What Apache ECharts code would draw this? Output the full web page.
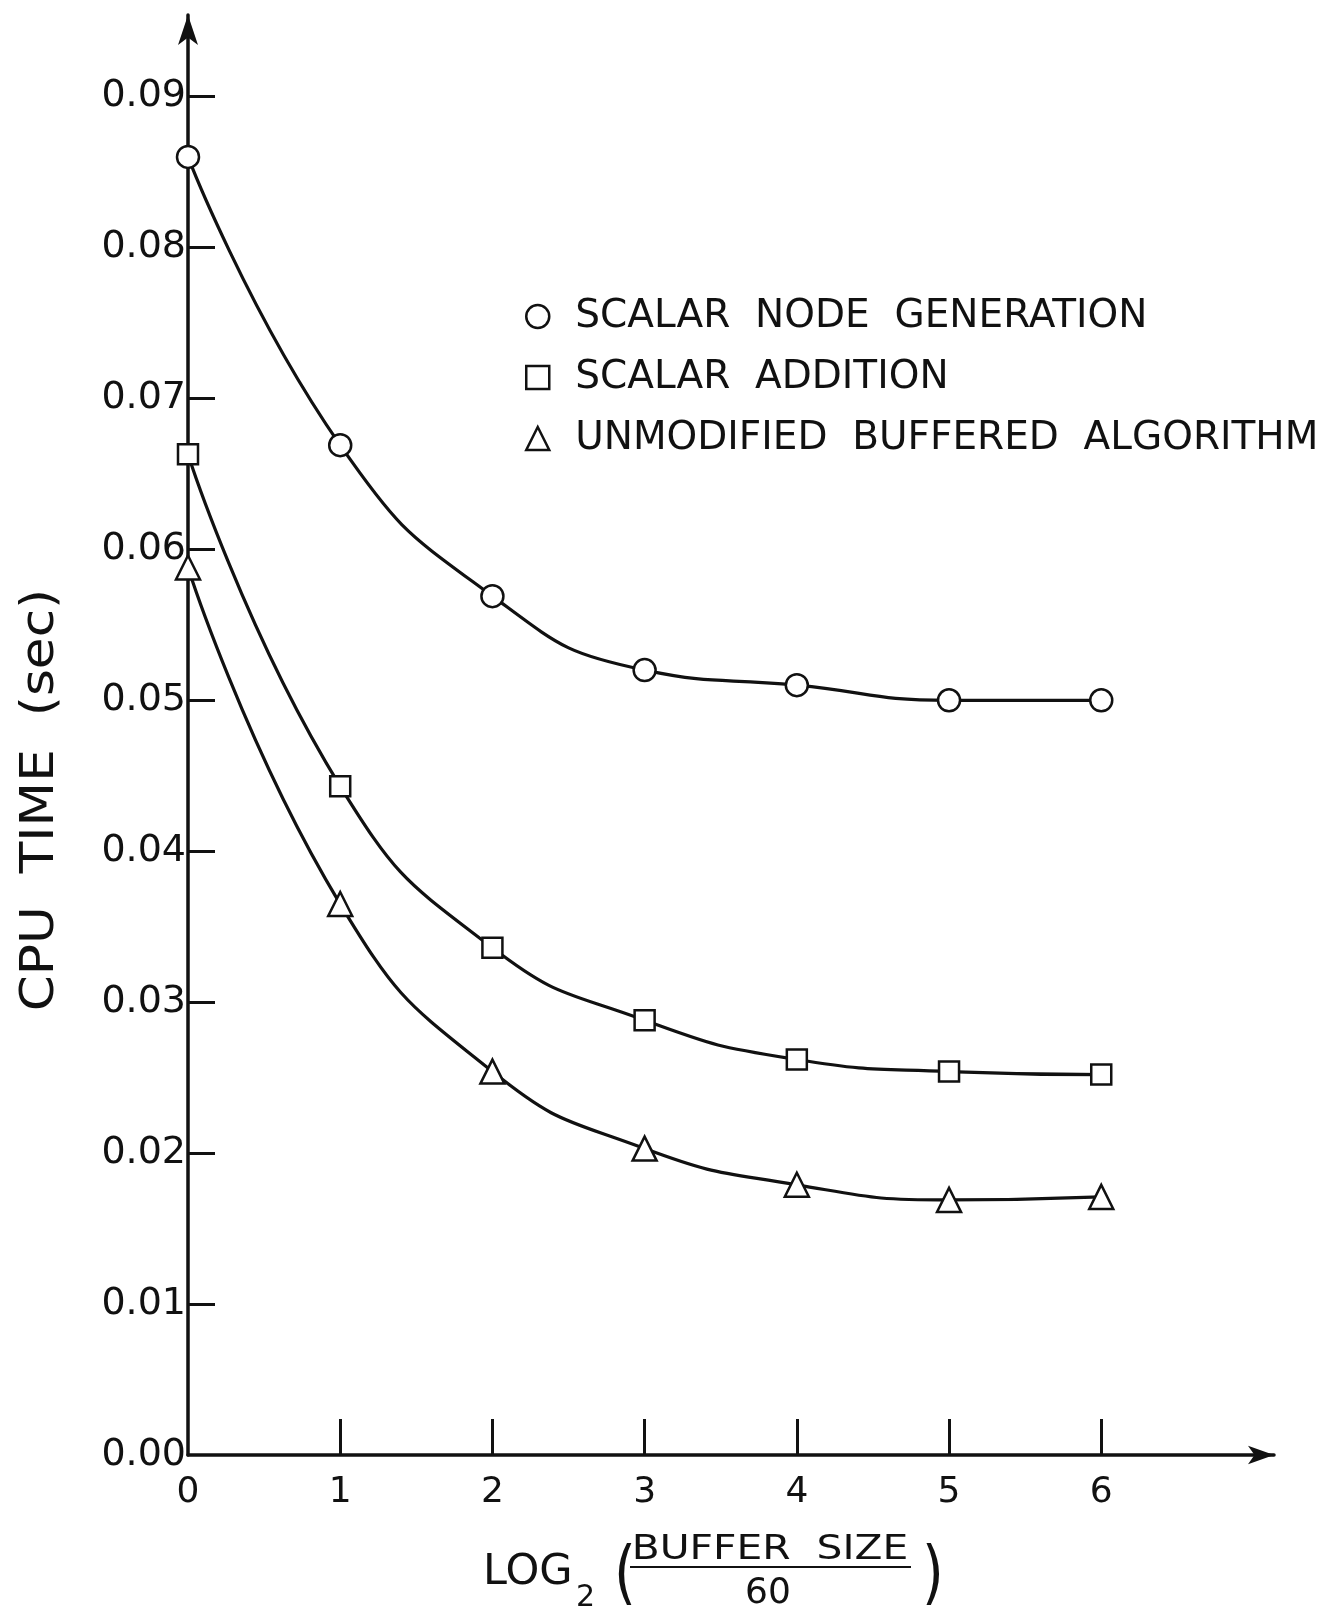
<!DOCTYPE html>
<html>
<head>
<meta charset="utf-8">
<script src="https://cdn.jsdelivr.net/npm/echarts@6/dist/echarts.min.js"></script>
<style>
  html, body { margin: 0; padding: 0; background: #fff; }
  #chart { width: 1331px; height: 1612px; }
</style>
</head>
<body>
<div id="chart"></div>
<script>
// log2(buffer size / 60)
const bufferLog = [0, 1, 2, 3, 4, 5, 6];
// cpu time (sec)
const nodeGen = [0.0860, 0.0669, 0.0569, 0.0520, 0.0510, 0.0500, 0.0500];
const scalarAdd = [0.0663, 0.0443, 0.0336, 0.0288, 0.0262, 0.0254, 0.0252];
const unmodified = [0.0588, 0.0365, 0.0254, 0.0203, 0.0179, 0.0169, 0.0171];

const xTickLabels = [0, 1, 2, 3, 4, 5, 6];
const yTickLabels = [0, 0.01, 0.02, 0.03, 0.04, 0.05, 0.06, 0.07, 0.08, 0.09];

const seriesNames = ['SCALAR  NODE  GENERATION', 'SCALAR  ADDITION', 'UNMODIFIED  BUFFERED  ALGORITHM'];

const FONT = 'DejaVu Sans';
const INK = '#111';

function pairs(ys) {
  return bufferLog.map((x, i) => [x, ys[i]]);
}

function mkSeries(name, ys, symbol, size) {
  return {
    name: name,
    type: 'line',
    data: pairs(ys),
    smooth: 0.5,
    symbol: symbol,
    symbolSize: size,
    showAllSymbol: true,
    lineStyle: { color: INK, width: 3.2 },
    itemStyle: { color: '#fff', borderColor: INK, borderWidth: 2.5 },
    z: 3
  };
}

let myChart = echarts.init(document.getElementById('chart'), null, { renderer: 'canvas' });

myChart.setOption({
  animation: false,
  backgroundColor: '#fff',
  grid: { left: 188, right: 57, top: 15, bottom: 157 },
  legend: {
    orient: 'vertical',
    left: 520,
    top: 292,
    itemWidth: 23,
    itemHeight: 23,
    itemGap: 22,
    selectedMode: false,
    itemStyle: { color: '#fff', borderColor: INK, borderWidth: 2.5 },
    textStyle: { fontFamily: FONT, fontSize: 39, lineHeight: 38, color: INK, padding: [0, 0, 0, 21] },
    data: [
      { name: seriesNames[0], icon: 'circle' },
      { name: seriesNames[1], icon: 'rect' },
      { name: seriesNames[2], icon: 'triangle' }
    ]
  },
  xAxis: {
    type: 'value',
    min: 0,
    max: 7.135,
    interval: 1,
    splitLine: { show: false },
    axisLine: {
      show: true,
      symbol: ['none', 'arrow'],
      symbolSize: [14, 26],
      lineStyle: { color: INK, width: 3.5 }
    },
    axisTick: {
      show: true,
      inside: true,
      length: 36,
      customValues: xTickLabels.slice(1),
      lineStyle: { color: INK, width: 3 }
    },
    axisLabel: {
      customValues: xTickLabels,
      margin: 20,
      fontFamily: FONT,
      fontSize: 36,
      color: INK
    }
  },
  yAxis: {
    type: 'value',
    min: 0,
    max: 0.0954,
    interval: 0.01,
    splitLine: { show: false },
    axisLine: {
      show: true,
      symbol: ['none', 'arrow'],
      symbolSize: [15, 30],
      lineStyle: { color: INK, width: 3.5 }
    },
    axisTick: {
      show: true,
      inside: true,
      length: 27,
      customValues: yTickLabels.slice(1),
      lineStyle: { color: INK, width: 3 }
    },
    axisLabel: {
      customValues: yTickLabels,
      margin: 2,
      fontFamily: FONT,
      fontSize: 38,
      color: INK,
      formatter: v => v.toFixed(2)
    }
  },
  graphic: [
    // y axis title
    {
      type: 'text', x: 41, y: 800, rotation: Math.PI / 2, scaleX: 1.1,
      style: { text: 'CPU  TIME  (sec)', fontFamily: FONT, fontSize: 47, fill: INK, align: 'center', verticalAlign: 'middle' }
    },
    // x axis title: LOG2 ( BUFFER SIZE / 60 )
    {
      type: 'text', x: 483, y: 1573,
      style: { text: 'LOG', fontFamily: FONT, fontSize: 43, fill: INK, align: 'left', verticalAlign: 'middle' }
    },
    {
      type: 'text', x: 576, y: 1598,
      style: { text: '2', fontFamily: FONT, fontSize: 30, fill: INK, align: 'left', verticalAlign: 'middle' }
    },
    {
      type: 'text', x: 614, y: 1578, scaleX: 0.8,
      style: { text: '(', fontFamily: FONT, fontSize: 70, fill: INK, align: 'left', verticalAlign: 'middle' }
    },
    {
      type: 'text', x: 770, y: 1550, scaleX: 1.2,
      style: { text: 'BUFFER  SIZE', fontFamily: FONT, fontSize: 34, fill: INK, align: 'center', verticalAlign: 'middle' }
    },
    {
      type: 'line',
      shape: { x1: 630, y1: 1567, x2: 911, y2: 1567 },
      style: { stroke: INK, lineWidth: 2 }
    },
    {
      type: 'text', x: 768, y: 1594,
      style: { text: '60', fontFamily: FONT, fontSize: 36, fill: INK, align: 'center', verticalAlign: 'middle' }
    },
    {
      type: 'text', x: 922, y: 1578, scaleX: 0.8,
      style: { text: ')', fontFamily: FONT, fontSize: 70, fill: INK, align: 'left', verticalAlign: 'middle' }
    }
  ],
  series: [
    mkSeries(seriesNames[0], nodeGen, 'circle', 22),
    mkSeries(seriesNames[1], scalarAdd, 'rect', 20),
    mkSeries(seriesNames[2], unmodified, 'triangle', 24)
  ]
});
</script>
</body>
</html>
